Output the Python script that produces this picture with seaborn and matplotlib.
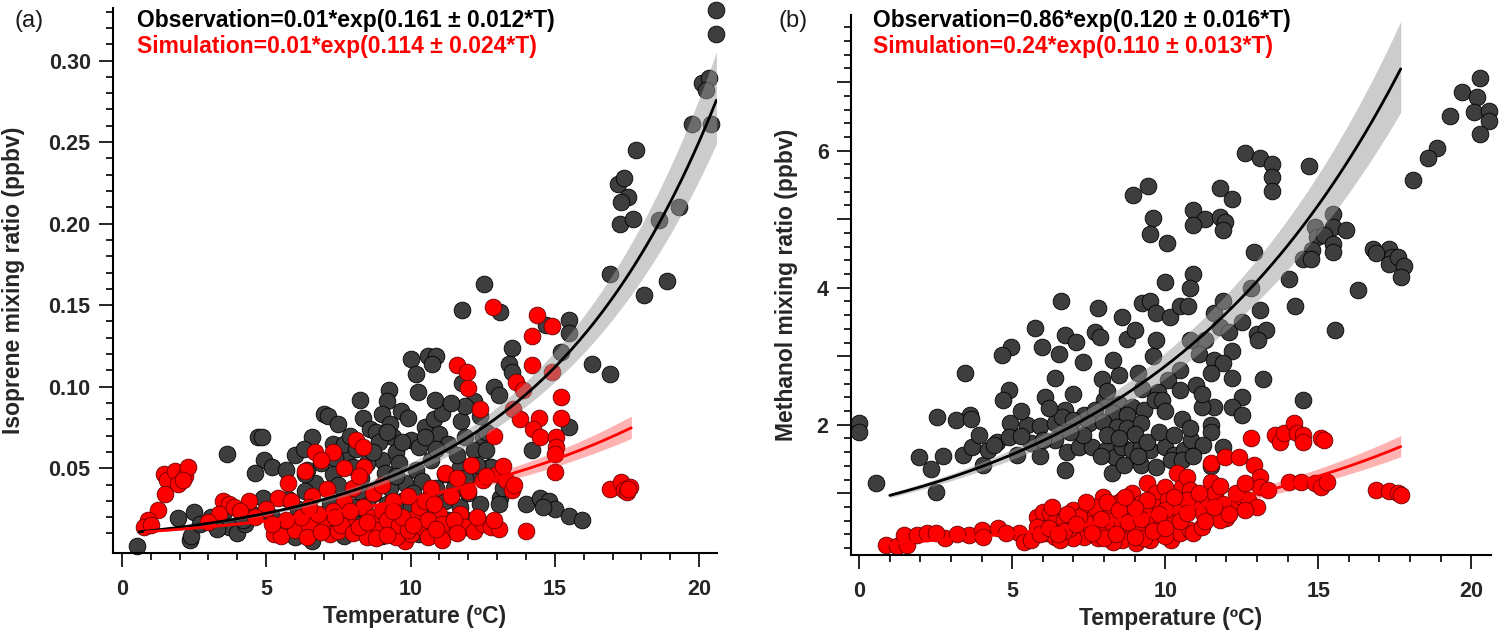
import numpy as np
import seaborn as sns
import matplotlib.pyplot as plt
from matplotlib.ticker import MultipleLocator, FixedLocator, FuncFormatter

# ---------------- data ----------------
# panel (a): isoprene, (temperature degC, mixing ratio ppbv)
iso_obs = [
    (20.58, 0.331), (20.6, 0.316), (20.1, 0.286), (20.35, 0.289), (20.25, 0.282), (19.75, 0.261),
    (20.4, 0.261), (17.8, 0.245), (17.2, 0.224), (17.4, 0.228), (17.55, 0.216), (17.3, 0.213),
    (17.25, 0.200), (17.7, 0.203), (18.6, 0.202), (19.3, 0.210), (16.9, 0.169), (18.1, 0.156),
    (18.9, 0.165), (12.54, 0.163),
    (11.8, 0.147), (13.1, 0.146), (15.5, 0.141), (14.7, 0.138), (15.5, 0.133), (13.5, 0.124),
    (15.2, 0.121), (16.3, 0.114), (16.9, 0.108), (10.0, 0.117), (10.6, 0.119), (10.9, 0.119),
    (10.75, 0.114), (10.2, 0.108), (10.25, 0.097), (9.25, 0.098), (9.17, 0.0915), (8.25, 0.092),
    (13.4, 0.114), (13.5, 0.109), (11.8, 0.102), (12.2, 0.0915), (12.9, 0.100), (13.07, 0.095),
    (15.5, 0.075), (14.2, 0.061),
    (4.7, 0.069), (4.85, 0.069), (3.65, 0.059), (4.93, 0.055), (4.6, 0.047), (5.2, 0.051),
    (5.7, 0.049), (6.0, 0.058), (6.4, 0.049), (6.6, 0.069), (7.0, 0.083), (7.15, 0.082),
    (7.5, 0.077), (7.3, 0.065), (7.8, 0.059), (7.7, 0.065), (8.35, 0.081), (8.6, 0.074),
    (8.8, 0.072), (9.0, 0.083), (9.3, 0.077), (9.4, 0.069), (9.66, 0.085), (9.9, 0.081),
    (10.0, 0.067), (10.3, 0.063), (10.5, 0.075), (10.8, 0.080), (11.0, 0.071), (11.3, 0.065),
    (11.75, 0.079), (11.9, 0.069), (12.2, 0.061), (12.5, 0.069), (12.6, 0.061), (11.7, 0.051),
    (12.1, 0.0465), (12.75, 0.051), (10.7, 0.055), (10.2, 0.049), (11.2, 0.0465), (9.0, 0.055),
    (8.5, 0.053), (8.0, 0.051), (7.3, 0.0465), (6.7, 0.041), (6.35, 0.0465), (9.8, 0.041),
    (9.3, 0.038), (8.7, 0.034), (8.5, 0.030), (8.0, 0.026), (9.17, 0.028), (9.7, 0.030),
    (10.0, 0.026), (10.7, 0.034), (11.2, 0.030), (11.5, 0.038), (11.7, 0.026), (11.3, 0.018),
    (11.8, 0.020), (11.5, 0.0117), (13.1, 0.032), (13.07, 0.028), (14.0, 0.028), (14.5, 0.032),
    (14.8, 0.030), (15.0, 0.025), (15.5, 0.021), (15.95, 0.018), (14.6, 0.026), (12.8, 0.051),
    (0.53, 0.0025), (1.94, 0.0195), (2.5, 0.023), (2.36, 0.006), (2.4, 0.0086), (2.7, 0.016),
    (3.1, 0.020), (3.5, 0.022), (3.7, 0.014), (4.0, 0.010), (4.27, 0.016), (4.5, 0.022),
    (4.9, 0.032), (5.35, 0.014), (5.7, 0.0117), (6.0, 0.0076), (6.35, 0.0117), (6.6, 0.0055),
    (7.0, 0.014), (7.7, 0.0086), (8.35, 0.0117), (8.6, 0.0117), (9.0, 0.0086), (9.66, 0.0117),
    (10.3, 0.0096), (10.7, 0.022), (5.76, 0.031), (6.35, 0.036), (7.2, 0.028), (7.7, 0.034),
    (8.35, 0.022), (8.8, 0.017), (9.3, 0.022),
    (7.9, 0.070), (8.1, 0.062), (8.9, 0.066), (9.5, 0.060), (9.1, 0.047), (8.3, 0.044),
    (10.4, 0.042), (10.9, 0.038), (11.6, 0.058), (12.3, 0.052), (12.0, 0.035), (12.4, 0.028),
    (10.5, 0.069), (9.6, 0.053), (6.9, 0.053), (7.5, 0.040), (6.1, 0.025), (5.2, 0.020),
    (4.2, 0.018), (3.3, 0.013), (12.6, 0.072), (13.2, 0.038), (11.1, 0.084), (10.85, 0.092),
    (11.9, 0.088),
    (7.4, 0.056), (8.7, 0.060), (9.7, 0.066), (10.9, 0.062), (9.2, 0.072), (8.2, 0.036),
    (9.5, 0.045), (10.1, 0.035), (7.1, 0.020), (8.1, 0.016), (10.5, 0.016), (11.9, 0.044),
    (12.4, 0.082), (11.4, 0.090), (6.3, 0.062),
]
iso_sim = [
    (1.45, 0.0465), (1.56, 0.0425), (1.83, 0.0485), (1.94, 0.0404), (2.2, 0.0455), (2.28, 0.0506),
    (2.1, 0.0425), (1.5, 0.034), (1.25, 0.0244), (0.9, 0.018), (0.78, 0.014), (1.0, 0.015),
    (3.5, 0.030), (3.7, 0.028), (3.9, 0.026), (4.4, 0.030), (4.1, 0.024), (3.35, 0.022),
    (3.0, 0.017), (5.27, 0.0096), (5.5, 0.0086), (5.4, 0.032), (5.85, 0.030), (5.76, 0.041),
    (6.35, 0.0486), (6.7, 0.060), (7.3, 0.060), (8.1, 0.067), (8.35, 0.063), (8.4, 0.051),
    (8.0, 0.038), (7.7, 0.030), (7.3, 0.024), (7.0, 0.018), (7.2, 0.0096), (7.5, 0.0117),
    (7.8, 0.018), (8.35, 0.026), (8.7, 0.020), (9.0, 0.024), (9.3, 0.0137), (9.8, 0.0055),
    (10.0, 0.0096), (9.5, 0.0076), (10.2, 0.020), (10.3, 0.026), (10.7, 0.038), (10.5, 0.030),
    (11.0, 0.022), (10.9, 0.0096), (11.3, 0.0117), (11.7, 0.022), (11.9, 0.0137), (12.2, 0.0117),
    (12.5, 0.0158), (12.8, 0.0137), (13.07, 0.0127), (12.5, 0.0425), (13.0, 0.0465), (13.3, 0.0425),
    (13.5, 0.0364), (12.9, 0.070), (14.0, 0.0117),
    (12.86, 0.1486), (14.4, 0.144), (14.2, 0.131), (14.9, 0.137), (11.6, 0.113), (11.96, 0.109),
    (12.0, 0.099), (12.4, 0.0865), (14.2, 0.113), (14.9, 0.109), (13.65, 0.103), (13.9, 0.098),
    (13.55, 0.0865), (13.8, 0.080), (15.2, 0.0936), (15.2, 0.081), (14.44, 0.081), (14.24, 0.074),
    (14.5, 0.069), (15.05, 0.069), (15.05, 0.063), (15.0, 0.059), (15.0, 0.0475), (13.2, 0.0516),
    (16.9, 0.0374), (17.3, 0.0414), (17.4, 0.0364), (17.6, 0.0384), (17.5, 0.0354), (17.55, 0.037),
    (6.0, 0.012), (6.5, 0.015), (6.8, 0.022), (7.6, 0.015), (8.0, 0.010), (8.5, 0.008),
    (8.9, 0.012), (9.2, 0.018), (9.6, 0.015), (9.9, 0.012), (10.4, 0.014), (10.6, 0.018),
    (11.1, 0.016), (11.5, 0.018), (6.2, 0.020), (5.0, 0.025), (4.6, 0.020), (8.7, 0.035),
    (9.4, 0.030), (9.9, 0.033), (10.8, 0.028), (11.4, 0.033), (12.0, 0.036), (7.1, 0.037),
    (6.6, 0.033), (8.2, 0.045), (9.0, 0.040), (7.7, 0.050), (6.9, 0.055), (11.2, 0.047),
    (11.6, 0.044), (12.1, 0.052), (12.6, 0.045), (13.6, 0.040),
    (5.7, 0.018), (6.4, 0.008), (6.9, 0.011), (7.4, 0.020), (8.2, 0.014), (8.8, 0.007),
    (9.2, 0.009), (9.7, 0.020), (10.1, 0.015), (10.6, 0.008), (11.1, 0.006), (11.6, 0.010),
    (12.3, 0.020), (12.9, 0.018), (8.5, 0.017), (9.4, 0.024), (10.9, 0.013), (7.9, 0.024),
    (6.5, 0.026), (5.2, 0.016),
]

# panel (b): methanol
meoh_obs = [
    (20.3, 7.06), (19.7, 6.85), (20.2, 6.78), (20.1, 6.56), (20.6, 6.58), (20.6, 6.44), (20.3, 6.24),
    (19.3, 6.51), (18.9, 6.04), (18.6, 5.89), (18.1, 5.57), (12.6, 5.96), (13.1, 5.89), (13.5, 5.80),
    (13.5, 5.62), (13.5, 5.41), (14.7, 5.78), (11.8, 5.46), (12.2, 5.29), (9.45, 5.48), (8.95, 5.35),
    (9.6, 5.02), (9.5, 4.78), (10.05, 4.65), (10.9, 5.14), (11.3, 5.01), (10.9, 4.91), (11.8, 5.03),
    (11.95, 4.96), (11.9, 4.84), (15.5, 5.07), (15.5, 4.89), (14.9, 4.88), (14.95, 4.74), (15.2, 4.77),
    (15.5, 4.64), (15.5, 4.52), (15.9, 4.84), (14.8, 4.55), (14.5, 4.42), (14.77, 4.42), (12.9, 4.52),
    (14.06, 4.13), (12.8, 3.99), (13.1, 3.68), (14.25, 3.73), (16.3, 3.96), (16.8, 4.57), (17.3, 4.57),
    (17.4, 4.45), (17.3, 4.35), (17.6, 4.45), (17.8, 4.31), (17.7, 4.16), (16.9, 4.50), (10.9, 4.20),
    (10.0, 4.08), (10.8, 4.00), (6.6, 3.81), (7.8, 3.70), (8.6, 3.58), (9.25, 3.78), (9.5, 3.80),
    (9.7, 3.63), (10.15, 3.58), (10.5, 3.73), (10.75, 3.74), (11.6, 3.63),
    (15.55, 3.38), (13.0, 3.33), (13.3, 3.39), (13.05, 3.24), (11.8, 3.43), (12.1, 3.36), (11.3, 3.24),
    (10.8, 3.24), (11.1, 3.04), (11.6, 2.94), (12.2, 3.07), (11.9, 2.90), (11.5, 2.75), (10.5, 2.80),
    (10.1, 2.65), (12.2, 2.69), (13.2, 2.67), (11.0, 2.58), (10.5, 2.51), (12.5, 2.41), (12.2, 2.26),
    (12.5, 2.14), (11.6, 2.26), (11.2, 2.26), (14.5, 2.36),
    (5.75, 3.41), (4.97, 3.14), (4.66, 3.02), (5.97, 3.14), (6.53, 3.04), (6.72, 3.31), (7.1, 3.21),
    (7.3, 2.92), (7.7, 3.36), (7.86, 3.28), (8.75, 3.25), (9.03, 3.39), (9.7, 3.24), (3.47, 2.76),
    (6.4, 2.69), (7.95, 2.67), (8.5, 2.73), (9.1, 2.76), (9.77, 2.48), (9.25, 2.52), (4.9, 2.51),
    (4.7, 2.36), (6.06, 2.41), (8.0, 2.36), (8.5, 2.31), (8.9, 2.26), (9.3, 2.21), (9.66, 2.36),
    (9.9, 2.36), (6.72, 2.21), (7.34, 2.14), (7.7, 2.21), (8.3, 2.17), (8.75, 2.14), (3.63, 2.14),
    (2.55, 2.11), (3.16, 2.07), (3.66, 2.09), (4.92, 2.02), (5.5, 2.00), (5.9, 1.98), (6.4, 2.02),
    (6.64, 2.12), (7.0, 2.07), (7.5, 2.02), (7.97, 2.04), (8.44, 1.97), (8.75, 1.95), (9.2, 2.02),
    (10.55, 2.09), (11.5, 2.00), (11.5, 1.90), (0.0, 2.02), (0.0, 1.90), (1.95, 1.53), (2.34, 1.36),
    (2.73, 1.54), (3.4, 1.56), (3.7, 1.68), (4.06, 1.41), (4.2, 1.63), (4.5, 1.75), (4.9, 1.82),
    (5.16, 1.56), (5.6, 1.73), (5.9, 1.54), (6.4, 1.78), (6.8, 1.61), (6.72, 1.34), (7.2, 1.68),
    (7.6, 1.68), (8.05, 1.63), (8.36, 1.53), (8.6, 1.68), (8.9, 1.63), (9.2, 1.68), (9.5, 1.63),
    (10.0, 1.68), (10.3, 1.56), (10.6, 1.63), (10.86, 1.78), (11.25, 1.70), (11.9, 1.68), (8.25, 1.29),
    (8.67, 1.41), (9.2, 1.41), (9.7, 1.39), (10.2, 1.48), (10.55, 1.48), (0.55, 1.15), (2.5, 1.02),
    (11.5, 1.40),
    (8.1, 1.85), (8.5, 1.80), (9.0, 1.86), (9.4, 1.75), (9.8, 1.90), (10.3, 1.85), (10.8, 1.95),
    (7.3, 1.85), (6.9, 1.90), (6.0, 1.78), (5.3, 1.83), (4.4, 1.70), (7.9, 1.55), (9.1, 1.55),
    (10.9, 1.55), (11.2, 2.45), (10.0, 2.20), (8.1, 2.50), (7.0, 2.45), (6.2, 2.25), (5.3, 2.20),
    (3.9, 1.85), (9.6, 3.00), (8.3, 2.95), (11.9, 3.80), (12.5, 3.50),
]
meoh_sim = [
    (0.86, 0.243), (1.25, 0.229), (1.56, 0.243), (1.48, 0.389), (1.88, 0.389), (2.2, 0.414),
    (2.8, 0.355), (3.6, 0.389), (4.0, 0.462), (4.06, 0.365), (4.53, 0.487), (5.23, 0.414),
    (5.4, 0.292), (5.6, 0.316), (5.8, 0.657), (6.0, 0.730), (6.25, 0.706), (6.4, 0.584),
    (5.8, 0.511), (6.1, 0.414), (6.4, 0.365), (6.7, 0.608), (7.0, 0.754), (7.2, 0.462),
    (7.34, 0.365), (7.34, 0.706), (7.66, 0.657), (7.97, 0.949), (8.0, 0.803), (8.3, 0.706),
    (8.3, 0.462), (8.44, 0.852), (8.6, 0.900), (8.75, 0.706), (8.9, 0.998), (8.9, 0.414),
    (9.06, 0.657), (9.2, 0.852), (9.4, 1.144), (9.4, 0.462), (9.7, 0.998), (9.7, 0.803),
    (9.84, 0.414), (10.0, 1.095), (10.1, 0.900), (10.2, 0.316), (10.4, 1.290), (10.55, 1.095),
    (10.7, 1.241), (10.8, 1.046), (10.5, 0.414), (10.8, 0.462), (10.9, 0.414), (11.2, 0.511),
    (10.9, 0.803), (11.25, 0.706), (11.4, 0.900), (11.5, 1.168), (11.5, 1.445), (11.64, 0.998),
    (11.95, 1.533), (12.4, 1.533), (12.2, 0.803), (12.0, 0.633), (11.8, 0.608), (12.5, 0.949),
    (12.7, 0.900), (13.0, 0.803), (12.9, 1.411), (12.8, 1.800), (13.1, 1.241), (13.1, 1.095),
    (13.36, 1.046), (13.6, 1.849), (13.75, 1.752), (13.9, 1.873), (14.2, 2.019), (14.3, 1.873),
    (14.5, 1.849), (14.5, 1.752), (15.1, 1.800), (15.2, 1.776), (14.06, 1.168), (14.45, 1.168),
    (14.9, 1.144), (15.1, 1.095), (15.3, 1.168), (16.9, 1.046), (17.3, 1.036), (17.6, 1.007),
    (17.7, 0.973), (8.6, 0.316), (9.06, 0.268), (9.5, 0.316), (8.3, 0.292), (7.8, 0.341),
    (7.0, 0.341), (6.56, 0.316),
    (6.9, 0.50), (7.5, 0.55), (7.9, 0.45), (8.2, 0.60), (8.6, 0.55), (9.1, 0.50), (9.5, 0.60),
    (9.9, 0.55), (10.2, 0.65), (10.4, 0.80), (10.0, 0.75), (9.3, 0.75), (8.8, 0.85), (7.7, 0.80),
    (7.2, 0.65), (6.7, 0.45), (10.7, 0.90), (11.1, 1.00), (11.8, 1.10), (12.3, 1.00), (12.6, 1.15),
    (11.9, 0.85), (12.6, 0.75), (8.0, 0.35), (9.3, 0.35), (10.0, 0.38), (5.9, 0.40), (4.8, 0.42),
    (3.2, 0.40), (2.5, 0.42), (6.2, 0.50),
    (6.5, 0.40), (6.8, 0.70), (7.1, 0.55), (7.6, 0.42), (7.9, 0.62), (8.1, 0.88), (8.4, 0.40),
    (8.5, 0.75), (8.8, 0.58), (9.0, 0.36), (9.2, 0.62), (9.4, 0.90), (9.6, 0.45), (9.8, 0.70),
    (10.0, 0.50), (10.3, 0.95), (10.5, 0.60), (10.7, 0.72), (9.0, 0.78), (8.7, 0.95),
    (7.4, 0.88), (6.3, 0.80), (11.3, 0.60), (11.6, 0.80), (12.1, 0.70),
]

# exponential fits shown in the panels: amplitude, rate, temperature range
iso_obs_fit = (0.01, 0.161, 0.6, 20.6)
iso_sim_fit = (0.01, 0.114, 0.8, 17.65)
meoh_obs_fit = (0.86, 0.120, 1.0, 17.7)
meoh_sim_fit = (0.24, 0.110, 0.9, 17.7)

iso_texts = ['Observation=0.01*exp(0.161 ± 0.012*T)', 'Simulation=0.01*exp(0.114 ± 0.024*T)']
meoh_texts = ['Observation=0.86*exp(0.120 ± 0.016*T)', 'Simulation=0.24*exp(0.110 ± 0.013*T)']

DARK = '#3e3e3e'
RED = '#ff0000'

sns.set_style('ticks')
plt.rcParams['font.family'] = ['Liberation Sans', 'DejaVu Sans']


def draw_fit(ax, fit, line_color, band_color, band_alpha):
    amp, rate, t0, t1 = fit
    t = np.linspace(t0, t1, 200)
    y = amp * np.exp(rate * t)
    # confidence band widening with temperature
    w = 0.03 + 0.0035 * t
    ax.fill_between(t, y * np.exp(-w), y * np.exp(w), color=band_color,
                    alpha=band_alpha, lw=0, zorder=3)
    sns.lineplot(x=t, y=y, color=line_color, lw=2.0, ax=ax, zorder=4)


def draw_points(ax, pts, fill, edge):
    arr = np.array(pts)
    sns.scatterplot(x=arr[:, 0], y=arr[:, 1], color=fill, edgecolor=edge,
                    linewidth=0.6, s=145, ax=ax, zorder=2, clip_on=False)


def style_axis(ax):
    sns.despine(ax=ax)
    for side in ['left', 'bottom']:
        ax.spines[side].set_linewidth(1.5)
        ax.spines[side].set_color('black')
    ax.xaxis.set_major_locator(MultipleLocator(5))
    ax.xaxis.set_minor_locator(MultipleLocator(1))
    ax.tick_params(which='major', direction='out', length=10, width=1.2,
                   labelsize=15.5, color='black')
    ax.tick_params(which='minor', direction='out', length=5, width=1.2, color='black')
    ax.tick_params(axis='x', which='major', pad=9)
    ax.tick_params(axis='y', which='major', pad=6)
    for lab in ax.get_xticklabels() + ax.get_yticklabels():
        lab.set_fontweight('bold')
    ax.set_xlabel('Temperature (ºC)', fontsize=16.5, fontweight='bold', labelpad=3)


fig = plt.figure(figsize=(15, 6.35), dpi=100)
ax_a = fig.add_axes([0.0753, 0.1291, 0.4027, 0.8578])
ax_b = fig.add_axes([0.5673, 0.1260, 0.4267, 0.8504])

# ---- panel a ----
draw_points(ax_a, iso_obs, DARK, 'black')
draw_points(ax_a, iso_sim, RED, '#6a0000')
draw_fit(ax_a, iso_obs_fit, 'black', '#9a9a9a', 0.5)
draw_fit(ax_a, iso_sim_fit, RED, RED, 0.3)
ax_a.set_xlim(-0.31, 20.62)
ax_a.set_ylim(-0.002, 0.332)
ax_a.yaxis.set_major_locator(FixedLocator([0.05, 0.10, 0.15, 0.20, 0.25, 0.30]))
ax_a.yaxis.set_minor_locator(FixedLocator(np.arange(0.01, 0.335, 0.01)))
ax_a.yaxis.set_major_formatter(FuncFormatter(lambda v, p: f'{v:.2f}'))
style_axis(ax_a)
ax_a.set_ylabel('Isoprene mixing ratio (ppbv)', fontsize=16.5, fontweight='bold')
ax_a.yaxis.set_label_coords(-0.145, 0.5)

# ---- panel b ----
draw_points(ax_b, meoh_obs, DARK, 'black')
draw_points(ax_b, meoh_sim, RED, '#6a0000')
draw_fit(ax_b, meoh_obs_fit, 'black', '#9a9a9a', 0.5)
draw_fit(ax_b, meoh_sim_fit, RED, RED, 0.3)
ax_b.set_xlim(-0.27, 20.65)
ax_b.set_ylim(0.10, 7.98)
ax_b.yaxis.set_major_locator(MultipleLocator(1))
ax_b.yaxis.set_minor_locator(MultipleLocator(0.2))
ax_b.yaxis.set_major_formatter(FuncFormatter(lambda v, p: f'{v:.0f}' if round(v) % 2 == 0 else ''))
style_axis(ax_b)
ax_b.set_ylabel('Methanol mixing ratio (ppbv)', fontsize=16.5, fontweight='bold')
ax_b.yaxis.set_label_coords(-0.082, 0.5)

# ---- annotations ----
fig.text(15 / 1500, 1 - 27 / 635, '(a)', fontsize=17, color='#1a1a1a', va='baseline')
fig.text(778 / 1500, 1 - 27 / 635, '(b)', fontsize=17, color='#1a1a1a', va='baseline')
for x0, texts in [(137, iso_texts), (873, meoh_texts)]:
    fig.text(x0 / 1500, 1 - 26.7 / 635, texts[0], fontsize=16.5, fontweight='bold',
             color='black', va='baseline')
    fig.text(x0 / 1500, 1 - 53.3 / 635, texts[1], fontsize=16.5, fontweight='bold',
             color=RED, va='baseline')

fig.savefig('out.png', dpi=100)
